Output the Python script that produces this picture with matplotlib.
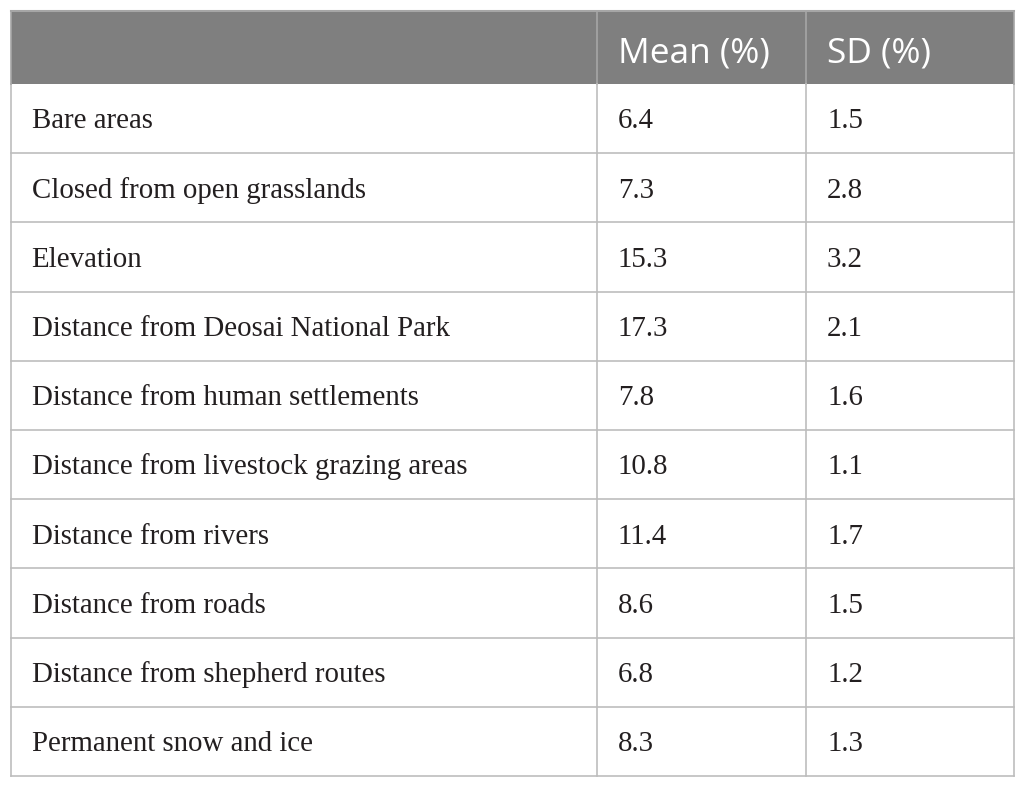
import matplotlib
matplotlib.use("Agg")
import matplotlib.pyplot as plt
from matplotlib.patches import Rectangle

headers = ["", "Mean (%)", "SD (%)"]
variables = [
    "Bare areas",
    "Closed from open grasslands",
    "Elevation",
    "Distance from Deosai National Park",
    "Distance from human settlements",
    "Distance from livestock grazing areas",
    "Distance from rivers",
    "Distance from roads",
    "Distance from shepherd routes",
    "Permanent snow and ice",
]
means = [6.4, 7.3, 15.3, 17.3, 7.8, 10.8, 11.4, 8.6, 6.8, 8.3]
sds = [1.5, 2.8, 3.2, 2.1, 1.6, 1.1, 1.7, 1.5, 1.2, 1.3]

W, H = 1025, 787
fig = plt.figure(figsize=(W / 100, H / 100), dpi=100)
ax = fig.add_axes([0, 0, 1, 1])
ax.set_xlim(0, W)
ax.set_ylim(H, 0)
ax.axis("off")

left, right = 10.5, 1013.5
col_x = [left, 597, 806, right]
top = 10.5
header_bottom = 84
row_h = (776 - header_bottom) / len(variables)
bottom = header_bottom + row_h * len(variables)

header_color = "#7f7f7f"
line_color = "#bdbdbd"
text_color = "#231f20"
pad = 21

# header background
ax.add_patch(Rectangle((left, top), right - left, header_bottom - top,
                       facecolor=header_color, edgecolor="none", zorder=1))
# header vertical separators (lighter)
for x in col_x[1:-1]:
    ax.plot([x, x], [top, header_bottom], color="#a6a6a6", lw=1.2, zorder=2)
for j, h in enumerate(headers):
    if h:
        ax.text(col_x[j] + pad, 62, h, color="white", fontsize=25.4,
                family="Open Sans", va="baseline", ha="left", zorder=3)

# body rows
for i in range(len(variables)):
    y0 = header_bottom + i * row_h
    base = y0 + 44.5
    cells = [variables[i], f"{means[i]:.1f}", f"{sds[i]:.1f}"]
    for j, c in enumerate(cells):
        ax.text(col_x[j] + pad, base, c, color=text_color, fontsize=20.8,
                family="Liberation Serif", va="baseline", ha="left", zorder=3)
    if i > 0:
        ax.plot([left, right], [y0, y0], color=line_color, lw=1.2, zorder=2)

# vertical lines in body
for x in col_x:
    ax.plot([x, x], [header_bottom, bottom], color=line_color, lw=1.2, zorder=2)
# outer border top and bottom
ax.plot([left, right], [top, top], color="#a6a6a6", lw=1.5, zorder=2)
ax.plot([left, right], [bottom, bottom], color=line_color, lw=1.2, zorder=2)
for x in [left, right]:
    ax.plot([x, x], [top, header_bottom], color="#a6a6a6", lw=1.2, zorder=2)

fig.savefig("out.png", dpi=100)
